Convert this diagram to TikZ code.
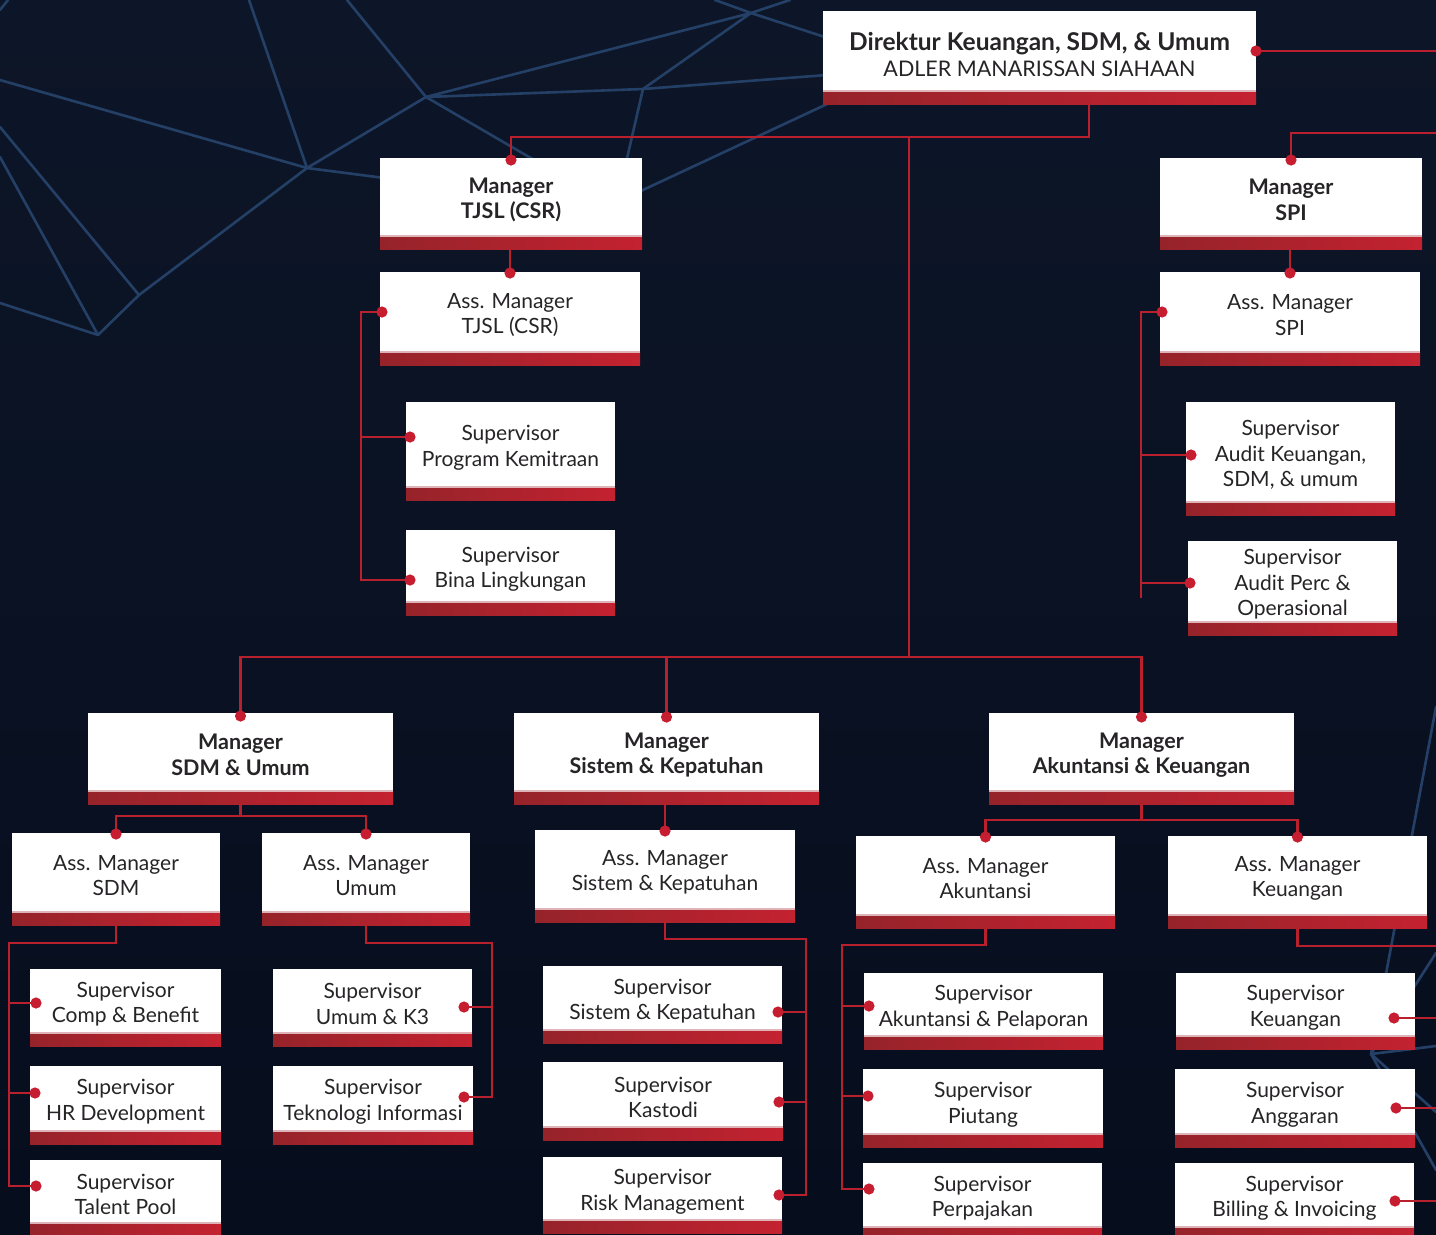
\documentclass[tikz,border=0pt]{standalone}
\usepackage{fontspec}
\setmainfont{Lato}
\usetikzlibrary{calc}

\definecolor{bgtop}{RGB}{13,22,40}
\definecolor{bgbot}{RGB}{6,13,29}
\definecolor{netc}{RGB}{37,64,102}
\definecolor{linkc}{RGB}{184,32,45}
\definecolor{pinc}{RGB}{198,30,48}
\definecolor{barl}{RGB}{150,35,42}
\definecolor{barr}{RGB}{196,34,48}
\definecolor{barhi}{RGB}{222,180,184}
\definecolor{inkc}{RGB}{38,36,38}

\tikzset{
  card/.style={fill=white, inner sep=0pt, outer sep=0pt},
  cardtext/.style={inner sep=0pt, outer sep=0pt, align=center, text=inkc,
    font=\fontsize{21}{25.5}\selectfont},
  headfont/.style={font=\fontsize{21.5}{25.5}\selectfont\bfseries},
  cardbar/.style={inner sep=0pt, outer sep=0pt, minimum height=13pt,
    left color=barl, right color=barr, draw=none},
  link/.style={draw=linkc, line width=2.8pt},
  net/.style={draw=netc, line width=2.6pt, line cap=round, line join=round},
}

% white card, its text and its red footer bar: [text options]{name}{x1}{y1}{x2}{y2}{text}
\newcommand\orgcard[7][]{%
  \node[card,minimum width={(#5-#3)*1pt},minimum height={(#6-#4)*1pt}]
    (#2) at ({(#3+#5)/2},{(#4+#6)/2}) {};
  \node[cardtext,#1] (#2t) at ($(#2.center)+(0,3)$) {#7};
  \node[cardbar,minimum width={(#5-#3)*1pt},anchor=north west] (#2b) at (#2.south west) {};
  \draw[barhi,line width=1.2pt] (#2b.north west) -- (#2b.north east);
}
\newcommand\pin[1]{\fill[pinc] #1 circle[radius=5.6pt];}

\begin{document}
\begin{tikzpicture}[x=1pt,y=-1pt]
\useasboundingbox (0,0) rectangle (1436,1235);
\shade[top color=bgtop,bottom color=bgbot] (0,0) rectangle (1436,1235);

% polygon mesh in the background
\draw[net] (0,80) -- (307,168) -- (426,97) -- (751,13) -- (643,89) -- (426,97);
\draw[net] (249,0) -- (307,168);
\draw[net] (347,0) -- (426,97);
\draw[net] (643,89) -- (840,74);
\draw[net] (426,97) -- (560,175);
\draw[net] (643,89) -- (622,180);
\draw[net] (751,13) -- (840,42);
\draw[net] (715,0) -- (751,13) -- (790,0);
\draw[net] (840,98) -- (600,210);
\draw[net] (307,168) -- (400,180);
\draw[net] (307,168) -- (139,295) -- (98,335);
\draw[net] (0,127) -- (139,295);
\draw[net] (0,157) -- (98,335) -- (0,303);
\draw[net] (0,10) -- (8,0);
\draw[net] (1436,707) -- (1371,1054) -- (1436,953);
\draw[net] (1436,1046) -- (1371,1054) -- (1436,1112);
\draw[net] (1371,1054) -- (1436,1170);

% cards
\orgcard[font=\fontsize{21.5}{26}\selectfont]{dir}{823}{11}{1256}{91}
  {{\fontsize{24.5}{26}\selectfont\bfseries Direktur Keuangan, SDM, \& Umum}\\ADLER MANARISSAN SIAHAAN}
\orgcard[headfont]{tjsl}{380}{158}{642}{236}{Manager\\TJSL (CSR)}
\orgcard{asstjsl}{380}{272}{640}{352}{Ass. Manager\\TJSL (CSR)}
\orgcard{supprog}{406}{402}{615}{487}{Supervisor\\Program Kemitraan}
\orgcard{supbina}{406}{530}{615}{602}{Supervisor\\Bina Lingkungan}
\orgcard[headfont]{spi}{1160}{158}{1422}{236}{Manager\\SPI}
\orgcard{assspi}{1160}{272}{1420}{352}{Ass. Manager\\SPI}
\orgcard{supaudk}{1186}{402}{1395}{502}{Supervisor\\Audit Keuangan,\\SDM, \& umum}
\orgcard{supaudp}{1188}{541}{1397}{622}{Supervisor\\Audit Perc \&\\Operasional}
\orgcard[headfont]{mgrsdm}{88}{713}{393}{791}{Manager\\SDM \& Umum}
\orgcard[headfont]{mgrsk}{514}{713}{819}{791}{Manager\\Sistem \& Kepatuhan}
\orgcard[headfont]{mgrak}{989}{713}{1294}{791}{Manager\\Akuntansi \& Keuangan}
\orgcard{asssdm}{12}{833}{220}{912}{Ass. Manager\\SDM}
\orgcard{assumum}{262}{833}{470}{912}{Ass. Manager\\Umum}
\orgcard{supcomp}{30}{969}{221}{1033}{Supervisor\\Comp \& Benefit}
\orgcard{suphr}{30}{1066}{221}{1131}{Supervisor\\HR Development}
\orgcard{suptal}{30}{1160}{221}{1223}{Supervisor\\Talent Pool}
\orgcard{supk3}{273}{969}{472}{1033}{Supervisor\\Umum \& K3}
\orgcard{supti}{273}{1066}{473}{1131}{Supervisor\\Teknologi Informasi}
\orgcard{asssk}{535}{830}{795}{909}{Ass. Manager\\Sistem \& Kepatuhan}
\orgcard{supsk}{543}{966}{782}{1030}{Supervisor\\Sistem \& Kepatuhan}
\orgcard{supkas}{543}{1062}{783}{1127}{Supervisor\\Kastodi}
\orgcard{suprisk}{543}{1157}{782}{1220}{Supervisor\\Risk Management}
\orgcard{assak}{856}{836}{1115}{915}{Ass. Manager\\Akuntansi}
\orgcard{asskeu}{1168}{836}{1427}{915}{Ass. Manager\\Keuangan}
\orgcard{supap}{864}{973}{1103}{1036}{Supervisor\\Akuntansi \& Pelaporan}
\orgcard{suppiu}{863}{1069}{1103}{1134}{Supervisor\\Piutang}
\orgcard{suppaj}{863}{1163}{1102}{1227}{Supervisor\\Perpajakan}
\orgcard{supkeu}{1176}{973}{1415}{1036}{Supervisor\\Keuangan}
\orgcard{supang}{1175}{1069}{1415}{1134}{Supervisor\\Anggaran}
\orgcard{supbill}{1175}{1163}{1414}{1227}{Supervisor\\Billing \& Invoicing}

% free ends and junctions
\coordinate (dirout) at (1436,51);
\coordinate (spiin) at (1436,133);
\coordinate (dirtap) at ($(dirb.south west)+(266,0)$);
\coordinate (hub) at (909,136);
\coordinate (split) at (909,657);
\coordinate (keuout) at (1436,946);

% director level
\draw[link] (dir.east) -- (dirout);
\draw[link] (dirtap) -- ++(0,33) -| (tjsl.north);
\draw[link] (hub) -- (split);
\draw[link] (spiin) -| (spi.north);
\draw[link] (mgrsdm.north) -- (mgrsdm.north |- split) -| (mgrak.north);
\draw[link] (mgrsk.north) -- (mgrsk.north |- split);

% manager to assistant manager
\draw[link] (asstjsl.north |- tjslb.south) -- (asstjsl.north);
\draw[link] (assspi.north |- spib.south) -- (assspi.north);
\draw[link] (asssk.north |- mgrskb.south) -- (asssk.north);
\draw[link] (mgrsdmb.south) -- ++(0,12);
\draw[link] (asssdm.north) -- ++(0,-17) -| (assumum.north);
\draw[link] (mgrakb.south) -- ++(0,16);
\draw[link] (assak.north) -- ++(0,-16) -| (asskeu.north);

% TJSL supervisors
\draw[link] (asstjsl.west) -- ++(-19,0) |- ($(supbina.west)+(4,14)$);
\draw[link] ($(supprog.west)+(4,-7.5)$) -- ++(-49,0);
% SPI supervisors
\draw[link] (assspi.west) -- ++(-19,0) -- ++(0,286);
\draw[link] ($(supaudk.west)+(5,3)$) -- ++(-50,0);
\draw[link] ($(supaudp.west)+(2,1.5)$) -- ++(-49,0);
% SDM supervisors
\draw[link] (asssdmb.south) -- ++(0,18) -| ($(suptal.west)+(-21,-5.5)$) -- ($(suptal.west)+(6,-5.5)$);
\draw[link] ($(supcomp.west)+(6,2)$) -- ++(-27,0);
\draw[link] ($(suphr.west)+(5,-5.5)$) -- ++(-26,0);
% Umum supervisors
\draw[link] (assumumb.south) -- ++(0,18) -| ($(supti.east)+(19,-1.5)$) -- ($(supti.east)+(-9,-1.5)$);
\draw[link] ($(supk3.east)+(-8,6)$) -- ++(28,0);
% Sistem & Kepatuhan supervisors
\draw[link] (assskb.south) -- ++(0,17) -| ($(suprisk.east)+(24,6.5)$) -- ($(suprisk.east)+(-3,6.5)$);
\draw[link] ($(supsk.east)+(-4,14)$) -- ++(28,0);
\draw[link] ($(supkas.east)+(-4,7.5)$) -- ++(27,0);
% Akuntansi supervisors
\draw[link] (assakb.south) -- ++(0,17) -| ($(suppaj.west)+(-21,-6)$) -- ($(suppaj.west)+(6,-6)$);
\draw[link] ($(supap.west)+(5,1.5)$) -- ++(-27,0);
\draw[link] ($(suppiu.west)+(5,-5.5)$) -- ++(-26,0);
% Keuangan supervisors
\draw[link] (asskeub.south) |- (keuout);
\draw[link] ($(supkeu.east)+(-21,13.5)$) -- ++(42,0);
\draw[link] ($(supang.east)+(-19,6.5)$) -- ++(40,0);
\draw[link] ($(supbill.east)+(-19,6)$) -- ++(41,0);

% connection pins
\pin{(dir.east)}
\pin{($(tjsl.north)+(0,2)$)}
\pin{($(spi.north)+(0,2)$)}
\pin{($(asstjsl.north)+(0,1)$)}
\pin{($(assspi.north)+(0,1)$)}
\pin{($(mgrsdm.north)+(0,3)$)}
\pin{($(mgrsk.north)+(0,4)$)}
\pin{($(mgrak.north)+(0,4)$)}
\pin{($(asssk.north)+(0,1)$)}
\pin{($(asssdm.north)+(0,1)$)}
\pin{($(assumum.north)+(0,1)$)}
\pin{($(assak.north)+(0,1)$)}
\pin{($(asskeu.north)+(0,1)$)}
\pin{($(asstjsl.west)+(2,0)$)}
\pin{($(supprog.west)+(4,-7.5)$)}
\pin{($(supbina.west)+(4,14)$)}
\pin{($(assspi.west)+(2,0)$)}
\pin{($(supaudk.west)+(5,3)$)}
\pin{($(supaudp.west)+(2,1.5)$)}
\pin{($(supcomp.west)+(6,2)$)}
\pin{($(suphr.west)+(5,-5.5)$)}
\pin{($(suptal.west)+(6,-5.5)$)}
\pin{($(supk3.east)+(-8,6)$)}
\pin{($(supti.east)+(-9,-1.5)$)}
\pin{($(supsk.east)+(-4,14)$)}
\pin{($(supkas.east)+(-4,7.5)$)}
\pin{($(suprisk.east)+(-3,6.5)$)}
\pin{($(supap.west)+(5,1.5)$)}
\pin{($(suppiu.west)+(5,-5.5)$)}
\pin{($(suppaj.west)+(6,-6)$)}
\pin{($(supkeu.east)+(-21,13.5)$)}
\pin{($(supang.east)+(-19,6.5)$)}
\pin{($(supbill.east)+(-19,6)$)}
\end{tikzpicture}
\end{document}
